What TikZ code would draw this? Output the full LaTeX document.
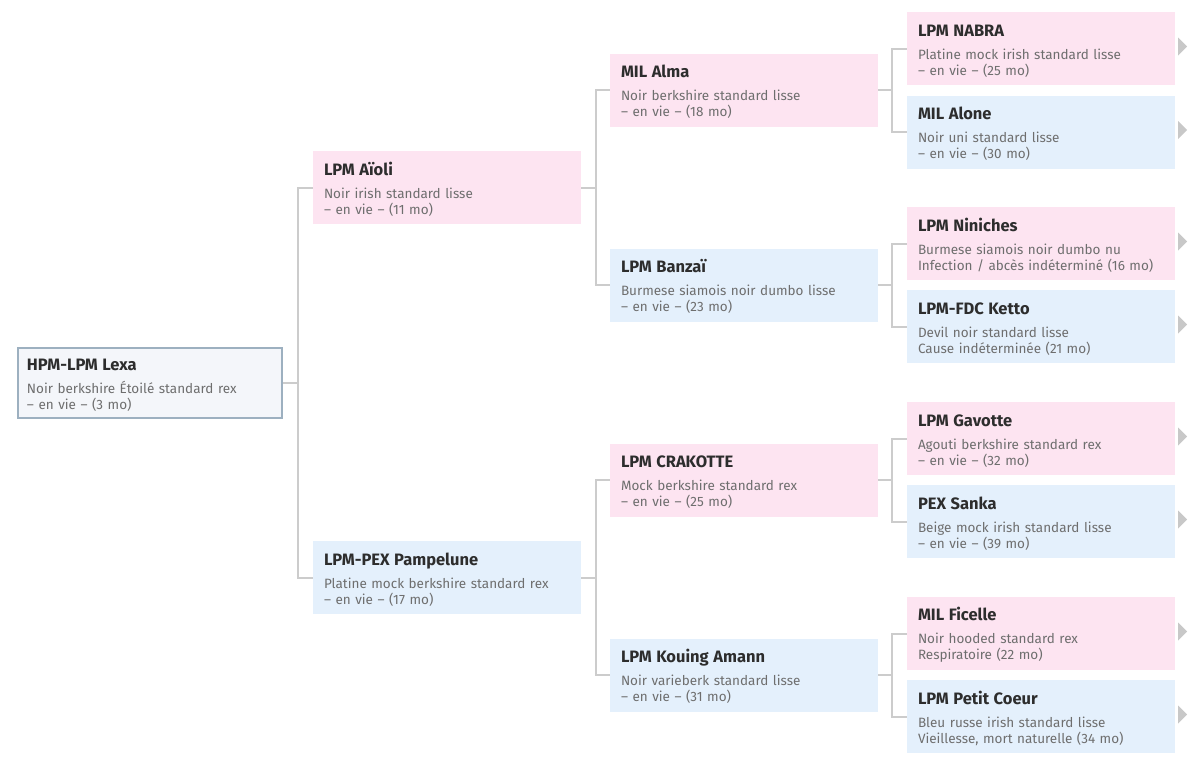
\documentclass[tikz,border=0pt]{standalone}
\usepackage{fontspec}
\setmainfont{Fira Sans}
\usetikzlibrary{positioning}
\definecolor{pinkfill}{HTML}{FDE4F1}
\definecolor{bluefill}{HTML}{E4F0FC}
\definecolor{rootfill}{HTML}{F4F6FA}
\definecolor{rootborder}{HTML}{9DB0C0}
\definecolor{linkgray}{HTML}{CCCCCC}
\definecolor{markgray}{HTML}{C8C8C8}
\definecolor{titlegray}{HTML}{2D2D2D}
\definecolor{bodygray}{HTML}{6E6E6E}
\tikzset{
    card/.style={rectangle,minimum width=268pt,minimum height=73pt,text width=246pt,
        inner xsep=11pt,inner ysep=0pt,align=left,text=bodygray,
        font=\fontsize{13.5}{16}\selectfont},
    doe/.style={card,fill=pinkfill},
    buck/.style={card,fill=bluefill},
    rootcard/.style={card,fill=rootfill,draw=rootborder,line width=2pt,
        minimum width=264pt,minimum height=70pt,text width=246pt,inner xsep=9pt},
    link/.style={draw=linkgray,line width=2pt},
    more/.style={fill=markgray}
}
\newcommand{\ratname}[1]{{\fontsize{16.5}{18}\selectfont\bfseries\color{titlegray}\rule{0pt}{16.5pt}#1}}
\newcommand{\alive}{– en vie –}

\begin{document}
\begin{tikzpicture}[x=1pt,y=-1pt]
    \useasboundingbox (0,0) rectangle (1200,766);
    % generation 1
    \node[rootcard] (lexa) at (150,382.5)
        {\ratname{HPM-LPM Lexa}\\[7pt]Noir berkshire Étoilé standard rex\\\alive{} (3 mo)};
    % generation 2
    \node[doe] (aioli) at (447,187.5)
        {\ratname{LPM Aïoli}\\[7pt]Noir irish standard lisse\\\alive{} (11 mo)};
    \node[buck] (pampelune) at (447,577.5)
        {\ratname{LPM-PEX Pampelune}\\[7pt]Platine mock berkshire standard rex\\\alive{} (17 mo)};
    % generation 3
    \node[doe] (alma) at (744,90)
        {\ratname{MIL Alma}\\[7pt]Noir berkshire standard lisse\\\alive{} (18 mo)};
    \node[buck] (banzai) at (744,285)
        {\ratname{LPM Banzaï}\\[7pt]Burmese siamois noir dumbo lisse\\\alive{} (23 mo)};
    \node[doe] (crakotte) at (744,480)
        {\ratname{LPM CRAKOTTE}\\[7pt]Mock berkshire standard rex\\\alive{} (25 mo)};
    \node[buck] (kouing) at (744,675)
        {\ratname{LPM Kouing Amann}\\[7pt]Noir varieberk standard lisse\\\alive{} (31 mo)};
    % generation 4
    \node[doe] (nabra) at (1041,48.5)
        {\ratname{LPM NABRA}\\[7pt]Platine mock irish standard lisse\\\alive{} (25 mo)};
    \node[buck] (alone) at (1041,132)
        {\ratname{MIL Alone}\\[7pt]Noir uni standard lisse\\\alive{} (30 mo)};
    \node[doe] (niniches) at (1041,243.5)
        {\ratname{LPM Niniches}\\[7pt]Burmese siamois noir dumbo nu\\Infection / abcès indéterminé (16 mo)};
    \node[buck] (ketto) at (1041,326.5)
        {\ratname{LPM-FDC Ketto}\\[7pt]Devil noir standard lisse\\Cause indéterminée (21 mo)};
    \node[doe] (gavotte) at (1041,438.5)
        {\ratname{LPM Gavotte}\\[7pt]Agouti berkshire standard rex\\\alive{} (32 mo)};
    \node[buck] (sanka) at (1041,521.5)
        {\ratname{PEX Sanka}\\[7pt]Beige mock irish standard lisse\\\alive{} (39 mo)};
    \node[doe] (ficelle) at (1041,633.5)
        {\ratname{MIL Ficelle}\\[7pt]Noir hooded standard rex\\Respiratoire (22 mo)};
    \node[buck] (coeur) at (1041,716.5)
        {\ratname{LPM Petit Coeur}\\[7pt]Bleu russe irish standard lisse\\Vieillesse, mort naturelle (34 mo)};
    % links
    \draw[link] (lexa.east) -- ++(15,0) |- (aioli.west);
    \draw[link] (lexa.east) -- ++(15,0) |- (pampelune.west);
    \draw[link] (aioli.east) -- ++(15,0) |- (alma.west);
    \draw[link] (aioli.east) -- ++(15,0) |- (banzai.west);
    \draw[link] (pampelune.east) -- ++(15,0) |- (crakotte.west);
    \draw[link] (pampelune.east) -- ++(15,0) |- (kouing.west);
    \draw[link] (alma.east) -- ++(14,0) |- (nabra.west);
    \draw[link] (alma.east) -- ++(14,0) |- (alone.west);
    \draw[link] (banzai.east) -- ++(14,0) |- (niniches.west);
    \draw[link] (banzai.east) -- ++(14,0) |- (ketto.west);
    \draw[link] (crakotte.east) -- ++(14,0) |- (gavotte.west);
    \draw[link] (crakotte.east) -- ++(14,0) |- (sanka.west);
    \draw[link] (kouing.east) -- ++(14,0) |- (ficelle.west);
    \draw[link] (kouing.east) -- ++(14,0) |- (coeur.west);
    % more ancestors
    \foreach \n in {nabra,alone,niniches,ketto,gavotte,sanka,ficelle,coeur}
        \fill[more] (\n.east) ++(3,-11) -- ++(9,9) -- ++(-9,9) -- cycle;
\end{tikzpicture}
\end{document}
